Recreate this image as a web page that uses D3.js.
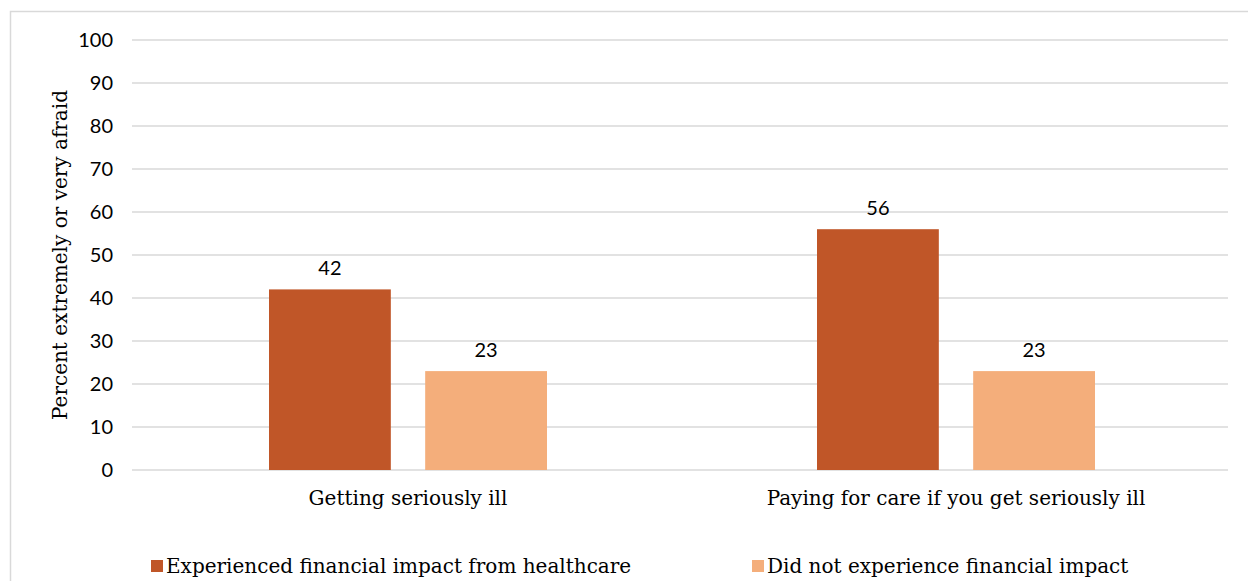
<!DOCTYPE html>
<html><head><meta charset="utf-8">
<script src="https://cdn.jsdelivr.net/npm/d3@7"></script>
<style>
html,body{margin:0;padding:0;background:#fff;}
svg{display:block;}
</style></head>
<body>
<svg id="chart" width="1248" height="581"></svg>
<script>
const categories = ["Getting seriously ill", "Paying for care if you get seriously ill"];
const seriesNames = ["Experienced financial impact from healthcare", "Did not experience financial impact"];
const experienced = [42, 56];
const notExperienced = [23, 23];
const yTicks = [0, 10, 20, 30, 40, 50, 60, 70, 80, 90, 100];
const colors = ["#C05628", "#F4AE7B"];
const yLabel = "Percent extremely or very afraid";

const svg = d3.select("#chart");
const serif = "'DejaVu Serif', serif";
const sans = "Lato, 'Open Sans', sans-serif";

// frame
svg.append("rect").attr("x", 10.5).attr("y", 11.5).attr("width", 1260).attr("height", 600)
  .attr("fill", "none").attr("stroke", "#D9D9D9").attr("stroke-width", 1.5);

const m = {left: 132, right: 1228, top: 40, bottom: 470};
const x0 = d3.scaleBand().domain(categories).range([m.left + 2, m.right + 2]);
const y = d3.scaleLinear().domain([0, 100]).range([m.bottom, m.top]);
const x1 = d3.scaleBand().domain([0, 1]).range([0, 278]).paddingInner(0.22);

// grid
svg.append("g").selectAll("line").data(yTicks).join("line")
  .attr("x1", m.left).attr("x2", m.right)
  .attr("y1", d => y(d)).attr("y2", d => y(d))
  .attr("stroke", "#D9D9D9").attr("stroke-width", 1.5);

// y axis tick labels
const yAxis = d3.axisLeft(y).tickValues(yTicks).tickSize(0).tickPadding(0);
const yg = svg.append("g").attr("transform", `translate(113,0)`).call(yAxis);
yg.select(".domain").remove();
yg.selectAll("text").attr("font-family", sans).attr("font-size", 20).attr("fill", "#000");

// y label
svg.append("text").attr("transform", `translate(67,${y(50)}) rotate(-90)`)
  .attr("text-anchor", "middle").attr("font-family", serif).attr("font-size", 20)
  .attr("fill", "#000").text(yLabel);

// bars
const data = categories.map((c, i) => ({c, vals: [experienced[i], notExperienced[i]]}));
const groups = svg.append("g").selectAll("g").data(data).join("g")
  .attr("transform", d => `translate(${x0(d.c) + x0.bandwidth() / 2 - 139},0)`);
groups.selectAll("rect").data(d => d.vals.map((v, k) => ({v, k}))).join("rect")
  .attr("x", d => x1(d.k)).attr("width", x1.bandwidth())
  .attr("y", d => y(d.v)).attr("height", d => y(0) - y(d.v))
  .attr("fill", d => colors[d.k]);
groups.selectAll("text").data(d => d.vals.map((v, k) => ({v, k}))).join("text")
  .attr("x", d => x1(d.k) + x1.bandwidth() / 2).attr("y", d => y(d.v) - 14)
  .attr("text-anchor", "middle").attr("font-family", sans).attr("font-size", 20)
  .attr("fill", "#000").text(d => d.v);

// x axis category labels
const xAxis = d3.axisBottom(x0).tickSize(0).tickPadding(0);
const xg = svg.append("g").attr("transform", `translate(0,491)`).call(xAxis);
xg.select(".domain").remove();
xg.selectAll("text").attr("font-family", serif).attr("font-size", 20).attr("fill", "#000");

// legend
const legendX = [151, 752];
const lg = svg.append("g").selectAll("g").data(seriesNames).join("g")
  .attr("transform", (d, i) => `translate(${legendX[i]},566)`);
lg.append("rect").attr("x", 0).attr("y", -6).attr("width", 12).attr("height", 12)
  .attr("fill", (d, i) => colors[i]);
lg.append("text").attr("x", 15).attr("y", 0).attr("dy", "0.35em")
  .attr("font-family", serif).attr("font-size", 20).attr("fill", "#000").text(d => d);
</script>
</body></html>
